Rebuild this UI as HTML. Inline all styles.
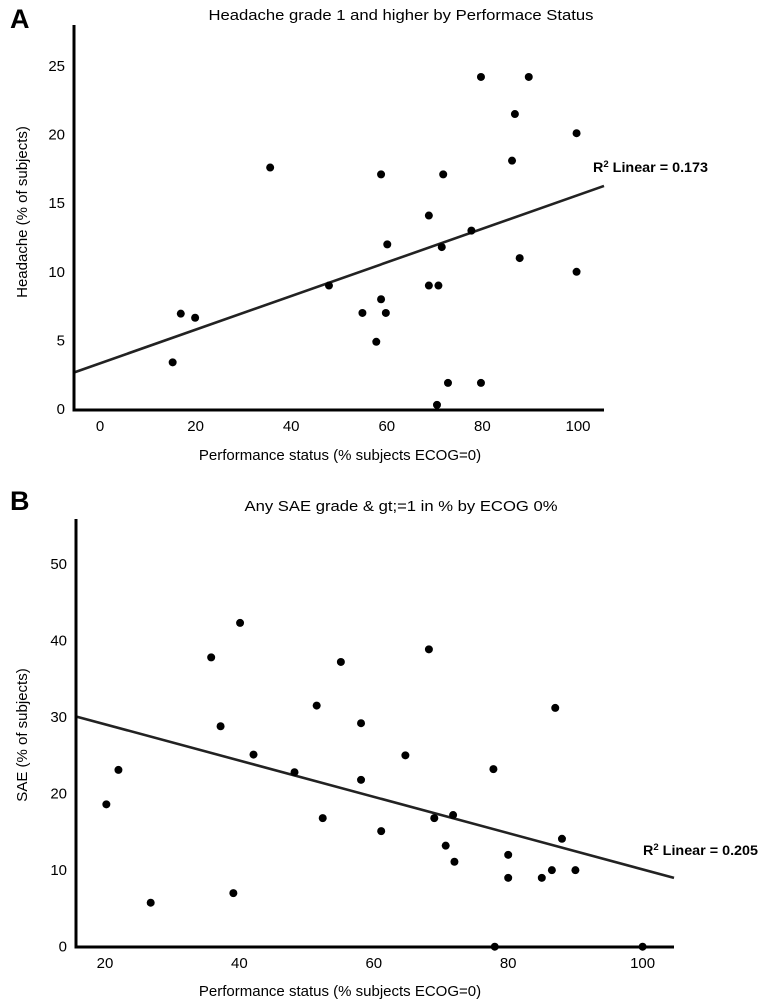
<!DOCTYPE html>
<html><head><meta charset="utf-8"><style>
html,body{margin:0;padding:0;background:#fff;}
svg{display:block;font-family:"Liberation Sans",Arial,sans-serif;}
</style></head><body>
<svg id="chart" width="783" height="1004" viewBox="0 0 783 1004" xmlns="http://www.w3.org/2000/svg">
<text x="10" y="28" font-size="27" font-weight="bold">A</text>
<text x="401" y="20" font-size="14.5" text-anchor="middle" textLength="385" lengthAdjust="spacingAndGlyphs">Headache grade 1 and higher by Performace Status</text>
<text transform="translate(27,212) rotate(-90)" font-size="15" text-anchor="middle">Headache (% of subjects)</text>
<text x="340" y="460" font-size="15" text-anchor="middle">Performance status (% subjects ECOG=0)</text>
<text x="593" y="172" font-size="13.5" font-weight="bold" textLength="115" lengthAdjust="spacingAndGlyphs">R<tspan font-size="9" dy="-5">2</tspan><tspan dy="5"> Linear = 0.173</tspan></text>
<text x="10" y="510" font-size="27" font-weight="bold">B</text>
<text x="401" y="511" font-size="14.5" text-anchor="middle" textLength="313" lengthAdjust="spacingAndGlyphs">Any SAE grade &amp; gt;=1 in % by ECOG 0%</text>
<text transform="translate(27,735) rotate(-90)" font-size="15" text-anchor="middle">SAE (% of subjects)</text>
<text x="340" y="996" font-size="15" text-anchor="middle">Performance status (% subjects ECOG=0)</text>
<text x="643" y="855" font-size="13.5" font-weight="bold" textLength="115" lengthAdjust="spacingAndGlyphs">R<tspan font-size="9" dy="-5">2</tspan><tspan dy="5"> Linear = 0.205</tspan></text>
</svg>
<script>
// Panel A data
const aX = [79.7,89.7,86.8,99.7,86.2,35.6,58.8,71.8,68.8,77.7,60.1,71.5,87.8,99.7,47.9,68.8,70.8,58.8,16.9,19.9,54.9,59.8,57.8,15.2,72.8,79.7,70.5];
const aY = [24.2,24.2,21.5,20.1,18.1,17.6,17.1,17.1,14.1,13.0,12.0,11.8,11.0,10.0,9.0,9.0,9.0,8.0,6.95,6.65,7.0,7.0,4.9,3.4,1.9,1.9,0.3];
const aXTicks = [0,20,40,60,80,100];
const aYTicks = [0,5,10,15,20,25];
const aFit = [3.33,0.1226]; // intercept, slope
// Panel B data
const bX = [40.1,35.8,68.2,55.1,51.5,87.0,37.2,58.1,42.1,64.7,22.0,77.8,48.2,58.1,20.2,52.4,69.0,71.8,61.1,88.0,70.7,72.0,80.0,80.0,85.0,86.5,90.0,39.1,26.8,78.0,100];
const bY = [42.3,37.8,38.85,37.2,31.5,31.2,28.8,29.2,25.1,25.0,23.1,23.2,22.8,21.8,18.6,16.8,16.8,17.2,15.1,14.1,13.2,11.1,12.0,9.0,9.0,10.0,10.0,7.0,5.75,0,0];
const bXTicks = [20,40,60,80,100];
const bYTicks = [0,10,20,30,40,50];
const bFit = [33.8,-0.237];

const NS='http://www.w3.org/2000/svg';
const svg=document.getElementById('chart');
function mk(tag,attrs){const e=document.createElementNS(NS,tag);for(const k in attrs)e.setAttribute(k,attrs[k]);svg.appendChild(e);return e;}

function panel(p,xs,ys,xt,yt,fit,px,py,box){
  const sx=v=>px[0]+(v-px[1])*px[2];
  const sy=v=>py[0]-(v-py[1])*py[2];
  const x0v=(box.l-px[0])/px[2]+px[1], x1v=(box.r-px[0])/px[2]+px[1];
  const ln=mk('line',{x1:box.l,y1:sy(fit[0]+fit[1]*x0v),x2:box.r,y2:sy(fit[0]+fit[1]*x1v),stroke:'#222','stroke-width':2.6});
  
  
  const ya=mk('line',{x1:box.l,y1:box.t,x2:box.l,y2:box.b+1.5,stroke:'#000','stroke-width':3});
  
  
  const xa=mk('line',{x1:box.l-1.5,y1:box.b,x2:box.r,y2:box.b,stroke:'#000','stroke-width':3});
  
  
  xt.forEach(v=>{const t=mk('text',{x:sx(v),y:box.b+21,'font-size':15,'text-anchor':'middle'});t.textContent=v;
    
    });
  yt.forEach(v=>{const t=mk('text',{x:box.l-9,y:sy(v)+5,'font-size':15,'text-anchor':'end'});t.textContent=v;
    
    });
  xs.forEach((v,i)=>{const c=mk('circle',{cx:sx(v),cy:sy(ys[i]),r:4,fill:'#000'});
    
    });
}
panel('panel-a',aX,aY,aXTicks,aYTicks,aFit,[100,0,4.78],[409,0,13.72],{l:74,r:604,t:25,b:410});
panel('panel-b',bX,bY,bXTicks,bYTicks,bFit,[105,20,6.72],[946.7,0,7.654],{l:76,r:674,t:519,b:947});
</script>
</body></html>
